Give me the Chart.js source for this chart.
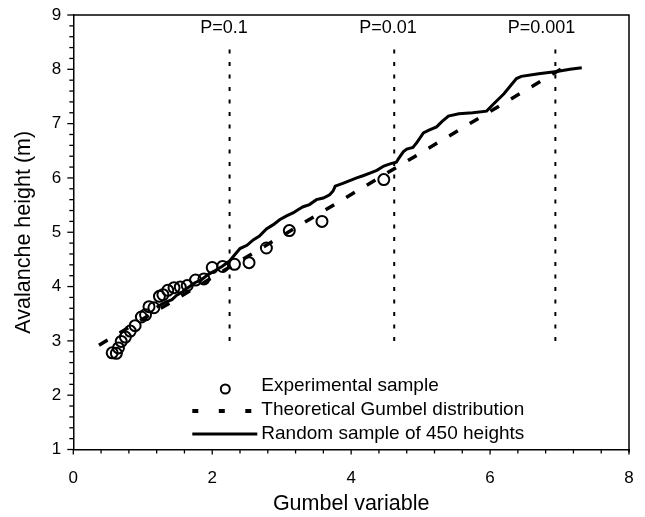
<!DOCTYPE html>
<html>
<head>
<meta charset="utf-8">
<script src="https://cdn.jsdelivr.net/npm/chart.js@4.4.1/dist/chart.umd.min.js"></script>
<style>
  html, body { margin: 0; padding: 0; background: #fff; }
  #wrap { width: 645px; height: 517px; position: relative; }
</style>
</head>
<body>
<div id="wrap"><canvas id="c" width="645" height="517"></canvas></div>
<script>
// ---- Data ----
const expX = [0.56, 0.62, 0.65, 0.69, 0.75, 0.82, 0.89, 0.98, 1.04, 1.09, 1.16, 1.24, 1.29, 1.36, 1.45, 1.54, 1.64, 1.76, 1.88, 2.00, 2.15, 2.32, 2.53, 2.78, 3.11, 3.58, 4.47];
const expY = [2.78, 2.77, 2.87, 2.99, 3.07, 3.18, 3.28, 3.44, 3.48, 3.63, 3.61, 3.82, 3.85, 3.93, 3.98, 3.99, 4.02, 4.12, 4.14, 4.35, 4.37, 4.41, 4.44, 4.71, 5.03, 5.20, 5.97];

const theoX = [0.37, 7.12];
const theoY = [2.92, 8.08];

const randX = [1.20, 1.25, 1.34, 1.42, 1.49, 1.57, 1.65, 1.75, 1.85, 1.94, 2.05, 2.14, 2.25, 2.30, 2.40, 2.50, 2.59, 2.68, 2.78, 2.88, 2.97, 3.07, 3.17, 3.24, 3.31, 3.40, 3.50, 3.60, 3.69, 3.74, 3.77, 3.88, 3.98, 4.08, 4.17, 4.27, 4.37, 4.47, 4.56, 4.65, 4.68, 4.75, 4.80, 4.89, 4.95, 5.04, 5.12, 5.23, 5.31, 5.40, 5.55, 5.75, 5.95, 6.05, 6.20, 6.38, 6.45, 6.70, 6.96, 7.15, 7.32];
const randY = [3.62, 3.66, 3.72, 3.76, 3.84, 3.90, 3.98, 4.07, 4.13, 4.22, 4.30, 4.37, 4.47, 4.55, 4.70, 4.76, 4.86, 4.93, 5.06, 5.14, 5.23, 5.30, 5.36, 5.42, 5.47, 5.51, 5.60, 5.63, 5.69, 5.76, 5.85, 5.90, 5.95, 6.00, 6.04, 6.09, 6.14, 6.22, 6.26, 6.29, 6.35, 6.48, 6.53, 6.56, 6.66, 6.83, 6.88, 6.94, 7.04, 7.14, 7.18, 7.20, 7.23, 7.36, 7.55, 7.83, 7.87, 7.92, 7.96, 8.00, 8.03];

const pLineX = [2.25, 4.62, 6.94];
const pLineY = [3.0, 8.5];
const pLabels = ['P=0.1', 'P=0.01', 'P=0.001'];
const pLabelX = [2.17, 4.53, 6.74];
const pLabelY = 8.76;

const xTicksMajor = [0, 2, 4, 6, 8];
const yTicksMajor = [1, 2, 3, 4, 5, 6, 7, 8, 9];

const legendLabels = ['Experimental sample', 'Theoretical Gumbel distribution', 'Random sample of 450 heights'];

const FONT = "'Liberation Sans', Arial, Helvetica, sans-serif";

function pts(xs, ys) { return xs.map((x, i) => ({ x: x, y: ys[i] })); }

const datasets = [
  {
    label: legendLabels[0],
    data: pts(expX, expY),
    showLine: false,
    pointStyle: 'circle',
    pointRadius: 5.5,
    pointBorderWidth: 2,
    pointBorderColor: '#000',
    pointBackgroundColor: 'rgba(0,0,0,0)'
  },
  {
    label: legendLabels[1],
    data: pts(theoX, theoY),
    showLine: true,
    borderColor: '#000',
    borderWidth: 3.5,
    borderDash: [10, 14],
    pointRadius: 0,
    fill: false
  },
  {
    label: legendLabels[2],
    data: pts(randX, randY),
    showLine: true,
    borderColor: '#000',
    borderWidth: 3,
    pointRadius: 0,
    tension: 0,
    fill: false
  }
];
pLineX.forEach((px, i) => {
  datasets.push({
    label: pLabels[i],
    data: pts([px, px], pLineY),
    showLine: true,
    borderColor: '#000',
    borderWidth: 2,
    borderDash: [4, 8.5],
    pointRadius: 0,
    fill: false
  });
});

const decorPlugin = {
  id: 'decor',
  afterDraw(chart) {
    const ctx = chart.ctx;
    const xs = chart.scales.x, ys = chart.scales.y;
    const a = chart.chartArea;
    ctx.save();
    ctx.strokeStyle = '#000';
    ctx.fillStyle = '#000';
    // frame (top and right)
    ctx.lineWidth = 1.5;
    ctx.beginPath();
    ctx.moveTo(a.left, a.top);
    ctx.lineTo(a.right, a.top);
    ctx.lineTo(a.right, a.bottom + 3);
    ctx.stroke();
    // y ticks (every 0.2)
    ctx.lineWidth = 1.3;
    for (let k = 0; k <= 40; k++) {
      const v = 1 + k * 0.2;
      const py = ys.getPixelForValue(v);
      const len = (k % 5 === 0) ? 6 : 4;
      ctx.beginPath();
      ctx.moveTo(a.left - len, py);
      ctx.lineTo(a.left, py);
      ctx.stroke();
    }
    // x ticks (every 0.4)
    for (let k = 0; k <= 20; k++) {
      const v = k * 0.4;
      const px = xs.getPixelForValue(v);
      const len = (k % 5 === 0) ? 5 : 4;
      ctx.beginPath();
      ctx.moveTo(px, a.bottom);
      ctx.lineTo(px, a.bottom + len);
      ctx.stroke();
    }
    // P labels
    ctx.font = '18px ' + FONT;
    ctx.textAlign = 'center';
    ctx.textBaseline = 'middle';
    pLabels.forEach((t, i) => {
      ctx.fillText(t, xs.getPixelForValue(pLabelX[i]), ys.getPixelForValue(pLabelY));
    });
    // legend
    const symX = a.left + 152;
    const lineL = a.left + 119, lineR = a.left + 184;
    const textX = a.left + 188;
    const rows = [a.top + 371, a.top + 395, a.top + 419];
    ctx.font = '19px ' + FONT;
    ctx.textAlign = 'left';
    ctx.textBaseline = 'middle';
    // row 1: circle
    ctx.lineWidth = 2;
    ctx.beginPath();
    ctx.arc(symX, rows[0] + 3, 4.5, 0, Math.PI * 2);
    ctx.stroke();
    ctx.fillText(legendLabels[0], textX, rows[0]);
    // row 2: dashed
    ctx.lineWidth = 4;
    ctx.setLineDash([6, 20.5]);
    ctx.beginPath();
    ctx.moveTo(lineL, rows[1] + 1);
    ctx.lineTo(lineR - 6, rows[1] + 1);
    ctx.stroke();
    ctx.setLineDash([]);
    ctx.fillText(legendLabels[1], textX, rows[1]);
    // row 3: solid
    ctx.lineWidth = 3;
    ctx.beginPath();
    ctx.moveTo(lineL, rows[2]);
    ctx.lineTo(lineR, rows[2]);
    ctx.stroke();
    ctx.fillText(legendLabels[2], textX, rows[2]);
    ctx.restore();
  }
};

function noPad(scale) {
  scale.paddingTop = 0; scale.paddingBottom = 0;
  scale.paddingLeft = 0; scale.paddingRight = 0;
}

new Chart(document.getElementById('c'), {
  type: 'scatter',
  data: { datasets: datasets },
  options: {
    responsive: false,
    animation: false,
    layout: { padding: { left: 0, right: 16, top: 15, bottom: 0 } },
    plugins: { legend: { display: false }, tooltip: { enabled: false } },
    scales: {
      x: {
        type: 'linear',
        min: 0, max: 8,
        afterBuildTicks(scale) { scale.ticks = xTicksMajor.map(v => ({ value: v })); },
        afterFit(scale) { scale.height = 67.5; noPad(scale); },
        grid: { display: true, drawOnChartArea: false, drawTicks: false },
        border: { display: true, color: '#000', width: 1.5 },
        ticks: { color: '#000', font: { family: FONT, size: 17 }, padding: 19, maxRotation: 0 },
        title: { display: true, text: 'Gumbel variable', color: '#000', font: { family: FONT, size: 21.5 }, padding: { top: 0, bottom: 0 } }
      },
      y: {
        type: 'linear',
        min: 1, max: 9,
        afterBuildTicks(scale) { scale.ticks = yTicksMajor.map(v => ({ value: v })); },
        afterFit(scale) { scale.width = 73.3; noPad(scale); },
        grid: { display: true, drawOnChartArea: false, drawTicks: false },
        border: { display: true, color: '#000', width: 1.5 },
        ticks: { color: '#000', font: { family: FONT, size: 17 }, padding: 12 },
        title: { display: true, text: 'Avalanche height (m)', color: '#000', font: { family: FONT, size: 21.5 }, padding: { top: 11, bottom: 0 } }
      }
    }
  },
  plugins: [decorPlugin]
});
</script>
</body>
</html>
